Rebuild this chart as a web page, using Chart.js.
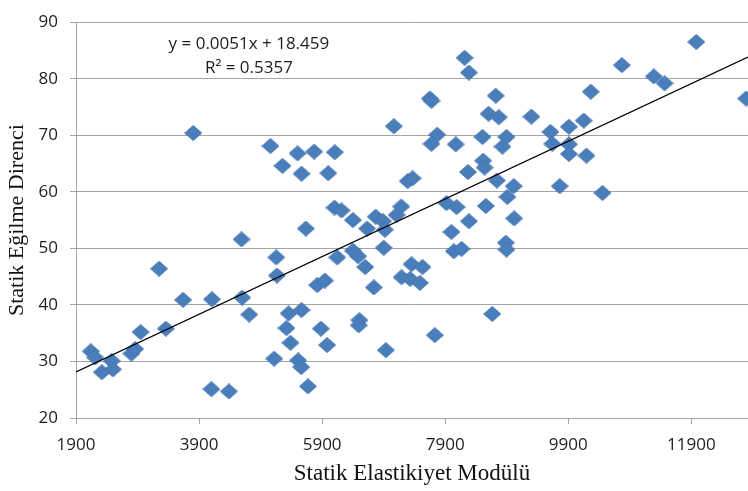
<!DOCTYPE html>
<html>
<head>
<meta charset="utf-8">
<script src="https://cdn.jsdelivr.net/npm/chart.js@4.4.1/dist/chart.umd.min.js"></script>
<style>
  html, body { margin: 0; padding: 0; background: #fff; }
  #wrap { width: 748px; height: 491px; }
</style>
</head>
<body>
<div id="wrap"><canvas id="js-chart-scatter"></canvas></div>
<script>
// Statik Elastikiyet Modulu (x) / Statik Egilme Direnci (y)
const modulus = [
    2140, 2210, 2320, 2480, 2500, 2800, 2860, 2950, 3250, 3360,
    3640, 3805, 4110, 4100, 4385, 4590, 4600, 4715, 5060, 5255,
    5500, 5565, 5770, 6000, 6105, 6100, 6215, 6400, 5635, 6630,
    6770, 6890, 6920, 6900, 7110, 7185, 7065, 7290, 7370, 5155,
    5165, 6145, 6400, 6485, 6600, 5820, 5945, 6740, 5355, 5565,
    5320, 5385, 5120, 5510, 5560, 5670, 5880, 5980, 6505, 6495,
    6935, 7190, 7330, 7487, 7352, 7530, 8215, 8285, 7650, 7677,
    8720, 8605, 8770, 9300, 7770, 7675, 8070, 8505, 8895, 8830,
    9610, 9910, 10150, 9640, 9910, 9910, 10195, 10265, 10770, 11290,
    11465, 11980, 12790, 8270, 8515, 8540, 8740, 9013, 9760, 10455,
    8910, 7920, 8085, 8560, 8285, 9020, 8000, 8885, 8895, 8040,
    8165, 8665, 7730
];
const strength = [
    31.8, 30.7, 28.1, 30.1, 28.6, 31.4, 32.2, 35.2, 46.4, 35.8,
    40.9, 70.4, 41.0, 25.1, 24.7, 51.6, 41.3, 38.3, 68.1, 64.6,
    66.8, 63.2, 67.1, 63.3, 67.0, 57.2, 56.7, 55.0, 53.5, 53.5,
    55.6, 54.8, 53.3, 50.1, 55.9, 57.4, 71.6, 61.9, 62.4, 48.4,
    45.2, 48.4, 49.6, 48.6, 46.7, 43.5, 44.3, 43.1, 38.5, 39.1,
    35.9, 33.3, 30.5, 30.2, 29.0, 25.6, 35.8, 32.9, 37.3, 36.4,
    32.0, 44.9, 44.6, 43.9, 47.2, 46.7, 83.7, 81.1, 76.5, 76.1,
    77.0, 73.8, 73.2, 73.3, 70.1, 68.5, 68.4, 69.7, 69.7, 68.0,
    70.6, 71.5, 72.6, 68.5, 68.4, 66.7, 66.4, 77.7, 82.4, 80.4,
    79.2, 86.5, 76.5, 63.5, 65.5, 64.3, 62.0, 61.0, 61.0, 59.8,
    59.1, 58.0, 57.3, 57.5, 54.8, 55.3, 52.9, 51.0, 49.8, 49.5,
    49.9, 38.4, 34.65
];
const xTicks = [1900, 3900, 5900, 7900, 9900, 11900];
const xRange = [1900, 12820];
const yRange = [20, 90];
const slope = 0.0051;
const intercept = 18.459;
const equationText = ["y = 0.0051x + 18.459", "R\u00B2 = 0.5357"];

function makeDiamond(w, h, fill, stroke) {
    const c = document.createElement("canvas");
    c.width = w;
    c.height = h;
    const g = c.getContext("2d");
    g.beginPath();
    g.moveTo(w / 2, 0.5);
    g.lineTo(w - 0.5, h / 2);
    g.lineTo(w / 2, h - 0.5);
    g.lineTo(0.5, h / 2);
    g.closePath();
    g.fillStyle = fill;
    g.fill();
    g.strokeStyle = stroke;
    g.lineWidth = 1;
    g.stroke();
    return c;
}

// trendline equation label, anchored in data coordinates
const equationLabel = {
    id: "equationLabel",
    afterDatasetsDraw(chart) {
        const { ctx, scales } = chart;
        const cx = scales.x.getPixelForValue(4710);
        const cy = scales.y.getPixelForValue(86.1);
        ctx.save();
        ctx.font = "17px 'Open Sans'";
        ctx.fillStyle = "#1e1e1e";
        ctx.textAlign = "center";
        ctx.textBaseline = "middle";
        ctx.fillText(equationText[0], cx, cy);
        ctx.fillText(equationText[1], cx, cy + 24);
        ctx.restore();
    }
};

document.addEventListener("DOMContentLoaded", function() {
    const element = document.getElementById("js-chart-scatter");
    const points = modulus.map((x, i) => ({ x: x, y: strength[i] }));
    const trend = xRange.map((x) => ({ x: x, y: slope * x + intercept }));
    const gridColor = "#a3a3a3";

    new Chart(element, {
        type: "scatter",
        data: {
            datasets: [
                {
                    label: "Trend",
                    type: "line",
                    data: trend,
                    borderColor: "#000",
                    borderWidth: 1.3,
                    pointRadius: 0,
                    fill: false,
                    order: 0
                },
                {
                    label: "Statik Egilme Direnci",
                    data: points,
                    pointStyle: makeDiamond(18, 16, "#4a7ebb", "#4576b2"),
                    pointRadius: 9,
                    order: 1
                }
            ]
        },
        options: {
            responsive: true,
            maintainAspectRatio: false,
            animation: false,
            layout: { autoPadding: false, padding: { top: 16, right: 0, bottom: 0, left: 0 } },
            plugins: {
                legend: { display: false },
                tooltip: { enabled: false }
            },
            scales: {
                x: {
                    type: "linear",
                    min: xRange[0],
                    max: xRange[1],
                    afterBuildTicks: (scale) => { scale.ticks = xTicks.map((v) => ({ value: v })); },
                    afterFit: (scale) => {
                        scale.height = 73;
                        scale.paddingLeft = 0;
                        scale.paddingRight = 0;
                    },
                    grid: { drawOnChartArea: false, drawTicks: true, tickLength: 6, color: gridColor },
                    border: { display: true, color: gridColor },
                    ticks: {
                        color: "#1e1e1e",
                        padding: 11,
                        maxRotation: 0,
                        font: { family: "'Open Sans'", size: 17 },
                        callback: (v) => String(v)
                    },
                    title: {
                        display: true,
                        text: "Statik Elastikiyet Modülü",
                        color: "#111",
                        font: { family: "'Liberation Serif'", size: 23 },
                        padding: { top: 0, bottom: 3 }
                    }
                },
                y: {
                    min: yRange[0],
                    max: yRange[1],
                    afterFit: (scale) => { scale.width = 76; },
                    grid: { drawTicks: true, tickLength: 6, color: gridColor },
                    border: { display: true, color: gridColor },
                    ticks: {
                        stepSize: 10,
                        color: "#1e1e1e",
                        padding: 12,
                        font: { family: "'Open Sans'", size: 17 }
                    },
                    title: {
                        display: true,
                        text: "Statik Eğilme Direnci",
                        color: "#111",
                        font: { family: "'Liberation Serif'", size: 22 },
                        padding: { top: 4.5, bottom: 0 }
                    }
                }
            }
        },
        plugins: [equationLabel]
    });
});
</script>
</body>
</html>
